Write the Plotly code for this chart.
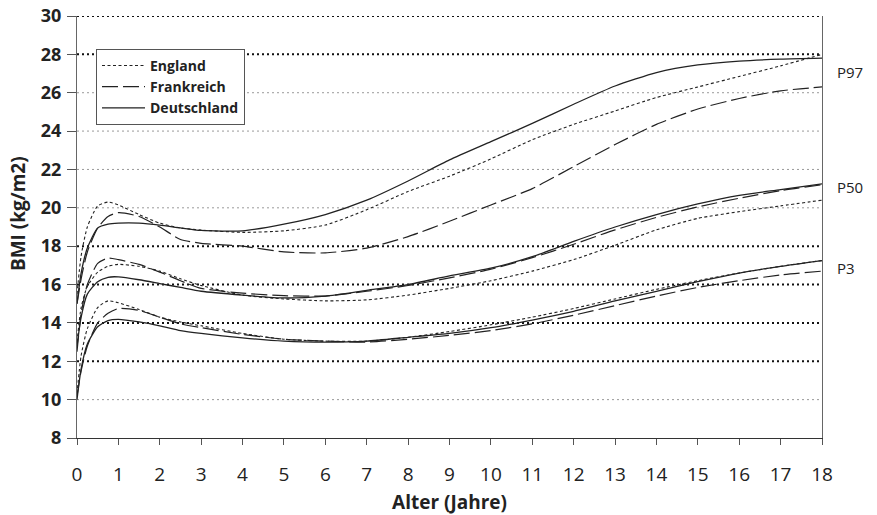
import plotly.graph_objects as go

# Age (years)
ages = [0, 0.1, 0.25, 0.5, 0.75, 1, 1.5, 2, 2.5, 3, 4, 5, 6, 7, 8, 9, 10, 11, 12, 13, 14, 15, 16, 17, 18]

# BMI percentiles (kg/m2)
de_p97 = [15.0, 16.6, 17.9, 18.95, 19.15, 19.2, 19.2, 19.1, 18.95, 18.82, 18.8, 19.15, 19.65, 20.4, 21.4, 22.5, 23.45, 24.4, 25.4, 26.35, 27.05, 27.45, 27.65, 27.75, 27.8]
en_p97 = [15.5, 17.5, 19.0, 20.1, 20.3, 20.15, 19.65, 19.2, 18.95, 18.84, 18.72, 18.8, 19.1, 19.9, 20.85, 21.65, 22.55, 23.55, 24.35, 25.05, 25.75, 26.3, 26.85, 27.4, 28.0]
fr_p97 = [15.0, 16.3, 17.7, 18.95, 19.55, 19.75, 19.55, 19.0, 18.35, 18.15, 18.0, 17.7, 17.65, 17.9, 18.5, 19.3, 20.15, 21.0, 22.15, 23.3, 24.35, 25.15, 25.7, 26.1, 26.3]

de_p50 = [12.8, 14.3, 15.5, 16.15, 16.38, 16.4, 16.25, 16.05, 15.85, 15.65, 15.45, 15.3, 15.4, 15.7, 16.0, 16.45, 16.85, 17.45, 18.25, 19.0, 19.65, 20.2, 20.65, 20.95, 21.25]
en_p50 = [13.0, 14.8, 15.9, 16.65, 16.95, 17.05, 16.95, 16.7, 16.3, 15.95, 15.45, 15.25, 15.15, 15.2, 15.45, 15.8, 16.2, 16.7, 17.3, 18.05, 18.85, 19.45, 19.8, 20.1, 20.4]
fr_p50 = [12.5, 14.5, 16.0, 17.1, 17.38, 17.3, 17.05, 16.65, 16.2, 15.8, 15.55, 15.42, 15.4, 15.65, 15.95, 16.35, 16.8, 17.4, 18.1, 18.85, 19.5, 20.05, 20.5, 20.9, 21.2]

de_p3 = [10.0, 11.6, 12.9, 13.8, 14.12, 14.18, 14.05, 13.85, 13.6, 13.45, 13.22, 13.05, 13.0, 13.05, 13.25, 13.45, 13.75, 14.15, 14.6, 15.15, 15.65, 16.15, 16.6, 16.95, 17.25]
en_p3 = [10.3, 12.3, 13.7, 14.8, 15.15, 15.05, 14.7, 14.3, 14.05, 13.85, 13.45, 13.15, 13.05, 13.05, 13.25, 13.55, 13.9, 14.3, 14.75, 15.25, 15.75, 16.2, 16.6, 16.95, 17.25]
fr_p3 = [10.2, 11.5, 12.8, 14.0, 14.5, 14.75, 14.65, 14.3, 13.95, 13.75, 13.4, 13.15, 13.05, 13.0, 13.15, 13.35, 13.6, 13.95, 14.4, 14.9, 15.4, 15.85, 16.2, 16.5, 16.7]

countries = ["England", "Frankreich", "Deutschland"]
series = {
    "England": [en_p97, en_p50, en_p3],
    "Frankreich": [fr_p97, fr_p50, fr_p3],
    "Deutschland": [de_p97, de_p50, de_p3],
}
percentile_labels = ["P97", "P50", "P3"]
x_ticks = list(range(0, 19))
y_ticks = list(range(8, 31, 2))
dark_grid = [12, 14, 16, 18, 28, 30]
light_grid = [10, 20, 22, 24, 26]

styles = {
    "England": dict(dash="3px,2.5px", width=1.1, color="#222222"),
    "Frankreich": dict(dash="16px,5px", width=1.2, color="#222222"),
    "Deutschland": dict(dash="solid", width=1.3, color="#222222"),
}

fig = go.Figure()
for c in countries:
    for i, vals in enumerate(series[c]):
        fig.add_trace(go.Scatter(
            x=ages, y=vals, mode="lines", name=c, legendgroup=c,
            showlegend=(i == 0),
            line=dict(shape="spline", smoothing=0.6, **styles[c]),
            hoverinfo="skip",
        ))

shapes = []
for g in dark_grid:
    shapes.append(dict(type="line", xref="paper", yref="y", x0=0, x1=1, y0=g, y1=g,
                       line=dict(color="#111111", width=2, dash="2px,3px"), layer="below"))
for g in light_grid:
    shapes.append(dict(type="line", xref="paper", yref="y", x0=0, x1=1, y0=g, y1=g,
                       line=dict(color="#999999", width=1, dash="2px,3px"), layer="below"))

annotations = []
label_y = [27.1, 21.1, 16.85]
for lab, yy in zip(percentile_labels, label_y):
    annotations.append(dict(text=lab, x=1.0, xref="paper", xanchor="left", xshift=13,
                            y=yy, yref="y", showarrow=False,
                            font=dict(family="Open Sans", size=15, color="#222222")))

# y-axis title (placed slightly above centre as in the original)
annotations.append(dict(text="BMI (kg/m2)", textangle=-90, x=-0.079, xref="paper", xanchor="center",
                        y=0.531, yref="paper", yanchor="middle", showarrow=False,
                        font=dict(family="Open Sans", size=19, color="#222222", weight="bold")))

narrow = "Liberation Sans Narrow, Open Sans, sans-serif"

fig.update_layout(
    width=877, height=515,
    margin=dict(l=77, r=55, t=16, b=77),
    paper_bgcolor="white", plot_bgcolor="white",
    shapes=shapes, annotations=annotations,
    showlegend=True,
    legend=dict(x=0.0255, y=0.922, xanchor="left", yanchor="top",
                bgcolor="white", bordercolor="#555555", borderwidth=1,
                font=dict(family="Open Sans", size=14, color="#222222", weight="bold"),
                itemwidth=43, tracegroupgap=0),
    xaxis=dict(range=[0, 18], tickvals=x_ticks, ticktext=[str(t) for t in x_ticks],
               automargin=False,
               showgrid=False, zeroline=False, showline=True, linecolor="#333333", linewidth=1,
               ticks="outside", ticklen=6, tickcolor="#555555", ticklabelstandoff=13,
               tickfont=dict(family=narrow, size=19, color="#222222"),
               title=dict(text="Alter (Jahre)", standoff=14,
                          font=dict(family="Open Sans", size=19, color="#222222", weight="bold"))),
    yaxis=dict(range=[8, 30], tickvals=y_ticks, ticktext=[str(t) for t in y_ticks],
               automargin=False,
               showgrid=False, zeroline=False, showline=True, linecolor="#666666", linewidth=1,
               mirror=True,
               ticks="outside", ticklen=9, tickcolor="#555555", ticklabelstandoff=2,
               tickfont=dict(family="Open Sans", size=18, color="#222222", weight="bold")),
)

fig.write_html("out.html")
